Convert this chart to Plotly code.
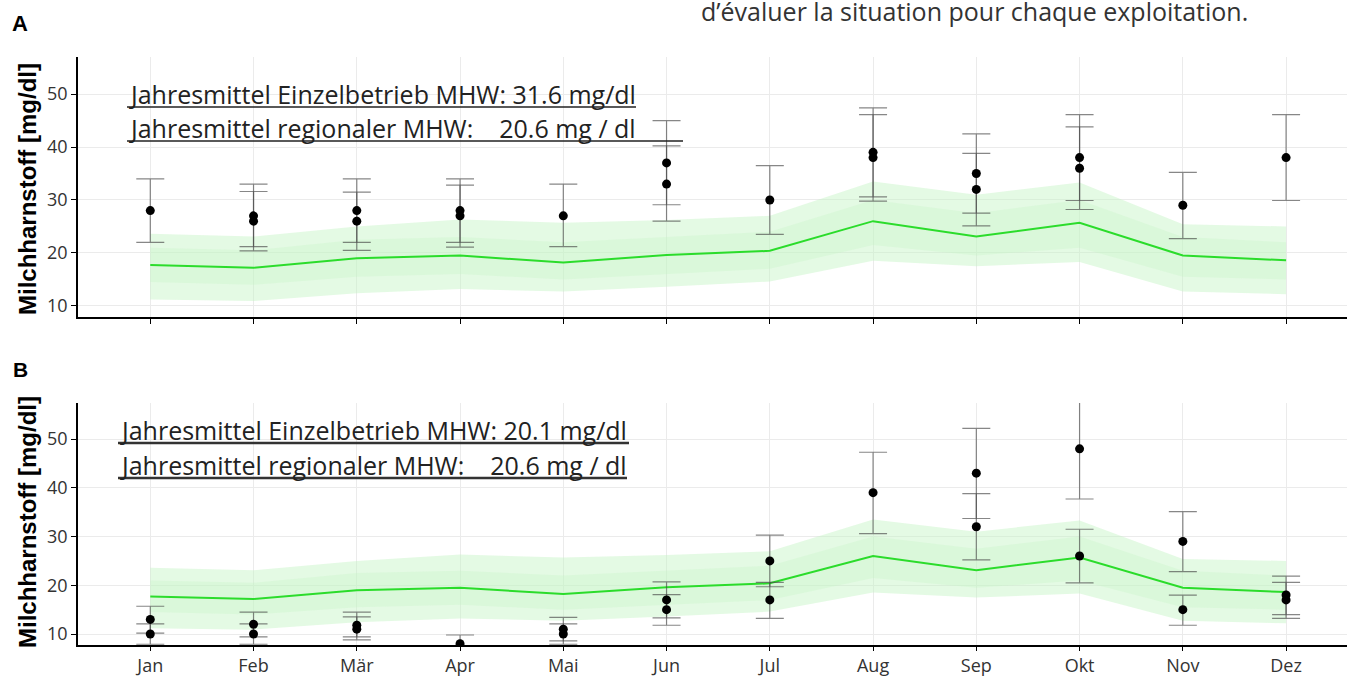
import plotly.graph_objects as go

W, H = 1347, 677

months = ["Jan", "Feb", "Mär", "Apr", "Mai", "Jun", "Jul", "Aug", "Sep", "Okt", "Nov", "Dez"]
month_pos = list(range(1, 13))

# regional mean (green line) and ribbons
regional_mean = [17.7, 17.2, 19.0, 19.5, 18.2, 19.6, 20.4, 26.0, 23.1, 25.7, 19.5, 18.6]
band_outer_low = [11.2, 10.9, 12.4, 13.2, 12.7, 13.6, 14.6, 18.5, 17.5, 18.3, 12.7, 12.2]
band_outer_high = [23.6, 23.1, 25.0, 26.3, 25.7, 26.2, 27.0, 33.5, 31.0, 33.3, 25.4, 25.0]
band_inner_low = [14.5, 14.0, 15.5, 16.0, 15.0, 16.0, 17.0, 21.5, 19.5, 21.0, 15.5, 15.0]
band_inner_high = [21.0, 20.5, 22.5, 23.0, 22.0, 23.0, 24.0, 30.0, 27.5, 30.0, 23.0, 22.0]

# Panel A: single farm
a_month = [1, 2, 2, 3, 3, 4, 4, 5, 6, 6, 7, 8, 8, 9, 9, 10, 10, 11, 12]
a_value = [28, 27, 26, 28, 26, 28, 27, 27, 37, 33, 30, 39, 38, 35, 32, 38, 36, 29, 38]
a_low = [22.0, 21.2, 20.4, 22.0, 20.5, 22.0, 21.1, 21.2, 29.1, 26.0, 23.5, 30.6, 29.8, 27.5, 25.1, 29.9, 28.2, 22.7, 29.9]
a_high = [34.0, 33.0, 31.6, 34.0, 31.5, 34.0, 32.8, 33.0, 45.0, 40.2, 36.5, 47.4, 46.1, 42.5, 38.8, 46.1, 43.8, 35.2, 46.1]

# Panel B: single farm
b_month = [1, 1, 2, 2, 3, 3, 4, 5, 5, 6, 6, 7, 7, 8, 9, 9, 10, 10, 11, 11, 12, 12]
b_value = [13, 10, 12, 10, 11.8, 11.0, 8, 11, 10, 17, 15, 25, 17, 39, 43, 32, 48, 26, 29, 15, 18, 17]
b_low = [10.2, 7.9, 9.4, 7.9, 9.4, 8.8, 6.3, 8.6, 7.9, 13.3, 11.8, 19.7, 13.2, 30.6, 33.7, 25.2, 37.7, 20.5, 22.8, 11.8, 14.0, 13.2]
b_high = [15.7, 12.1, 14.5, 12.1, 14.5, 13.5, 9.8, 13.4, 12.1, 20.7, 18.1, 30.3, 20.6, 47.3, 52.2, 38.8, 58.3, 31.5, 35.1, 18.0, 21.9, 20.6]

y_ticks = [10, 20, 30, 40, 50]

texts_a = ["Jahresmittel Einzelbetrieb MHW: 31.6 mg/dl", "Jahresmittel regionaler MHW:    20.6 mg / dl"]
texts_b = ["Jahresmittel Einzelbetrieb MHW: 20.1 mg/dl", "Jahresmittel regionaler MHW:    20.6 mg / dl"]
y_title = "Milchharnstoff [mg/dl]"
top_text = "d\u2019évaluer la situation pour chaque exploitation."


def px_x(p):
    return p / W


def px_y(p):
    return 1 - p / H


fig = go.Figure()

panels = [
    ("x", "y", a_month, a_value, a_low, a_high),
    ("x2", "y2", b_month, b_value, b_low, b_high),
]

for xa, ya, pm, pv, plo, phi in panels:
    fig.add_trace(go.Scatter(
        x=month_pos + month_pos[::-1], y=band_outer_high + band_outer_low[::-1],
        fill="toself", fillcolor="rgba(195,245,195,0.45)", line=dict(width=0),
        mode="lines", hoverinfo="skip", showlegend=False, xaxis=xa, yaxis=ya))
    fig.add_trace(go.Scatter(
        x=month_pos + month_pos[::-1], y=band_inner_high + band_inner_low[::-1],
        fill="toself", fillcolor="rgba(195,245,195,0.3)", line=dict(width=0),
        mode="lines", hoverinfo="skip", showlegend=False, xaxis=xa, yaxis=ya))
    fig.add_trace(go.Scatter(
        x=month_pos, y=regional_mean, mode="lines",
        line=dict(color="#2bdc2b", width=2), showlegend=False, xaxis=xa, yaxis=ya))
    fig.add_trace(go.Scatter(
        x=pm, y=pv, mode="markers",
        marker=dict(color="black", size=9),
        error_y=dict(type="data", symmetric=False,
                     array=[h - v for h, v in zip(phi, pv)],
                     arrayminus=[v - l for l, v in zip(plo, pv)],
                     color="rgba(70,70,70,0.65)", thickness=1.2, width=14),
        showlegend=False, xaxis=xa, yaxis=ya))

axis_common = dict(
    showgrid=True, gridcolor="#ebebeb", gridwidth=1, zeroline=False,
    showline=True, linecolor="black", linewidth=1.6, automargin=False,
    ticks="outside", tickcolor="black", tickwidth=1.2,
    tickfont=dict(family="Open Sans", size=18, color="#333333"),
)

xdom = [px_x(78), 1.0]
fig.update_layout(
    width=W, height=H, margin=dict(l=0, r=0, t=0, b=0, autoexpand=False),
    plot_bgcolor="white", paper_bgcolor="white",
    xaxis=dict(domain=xdom, range=[0.30, 12.59], tickvals=month_pos, ticktext=months,
               showticklabels=False, anchor="y", ticklen=5, **axis_common),
    yaxis=dict(domain=[px_y(317), px_y(57)], range=[7.9, 57.0], tickvals=y_ticks,
               anchor="x", ticklen=5, **axis_common),
    xaxis2=dict(domain=xdom, range=[0.30, 12.59], tickvals=month_pos, ticktext=months,
                showticklabels=True, anchor="y2", ticklen=4, **axis_common),
    yaxis2=dict(domain=[px_y(645), px_y(403)], range=[7.75, 57.4], tickvals=y_ticks,
                anchor="x2", ticklen=5, **axis_common),
)

ann = []
shapes = []
ann_font = dict(family="Open Sans", size=25, color="#222222")

# panel A texts
for txt, yc, ul_y, x0, x1 in [(texts_a[0], 94, 107, 127, 636), (texts_a[1], 128, 141, 127, 683)]:
    ann.append(dict(text=txt, x=px_x(x0), y=px_y(yc), xref="paper", yref="paper",
                    xanchor="left", yanchor="middle", showarrow=False, font=ann_font))
    shapes.append(dict(type="line", xref="paper", yref="paper", x0=px_x(x0), x1=px_x(x1),
                       y0=px_y(ul_y), y1=px_y(ul_y), line=dict(color="#222222", width=1.5)))
# panel B texts
for txt, yc, ul_y, x0, x1 in [(texts_b[0], 430, 443, 118, 629), (texts_b[1], 465, 478, 118, 627)]:
    ann.append(dict(text=txt, x=px_x(x0), y=px_y(yc), xref="paper", yref="paper",
                    xanchor="left", yanchor="middle", showarrow=False, font=ann_font))
    shapes.append(dict(type="line", xref="paper", yref="paper", x0=px_x(x0), x1=px_x(x1),
                       y0=px_y(ul_y), y1=px_y(ul_y), line=dict(color="#333333", width=2.5)))

# y titles
for yc in [189, 522]:
    ann.append(dict(text="<b>" + y_title + "</b>", x=px_x(27), y=px_y(yc), xref="paper", yref="paper",
                    xanchor="center", yanchor="middle", textangle=-90, showarrow=False,
                    font=dict(family="Liberation Sans", size=24, color="black")))

# panel letters
ann.append(dict(text="<b>A</b>", x=px_x(10), y=px_y(23), xref="paper", yref="paper",
                xanchor="left", yanchor="middle", showarrow=False,
                font=dict(family="Liberation Sans", size=22, color="black")))
ann.append(dict(text="<b>B</b>", x=px_x(11), y=px_y(369), xref="paper", yref="paper",
                xanchor="left", yanchor="middle", showarrow=False,
                font=dict(family="Liberation Sans", size=21, color="black")))

# text at top (partly cropped in the reference)
ann.append(dict(text=top_text, x=px_x(699), y=px_y(11), xref="paper", yref="paper",
                xanchor="left", yanchor="middle", showarrow=False,
                font=dict(family="Open Sans", size=25, color="#333333")))

fig.update_layout(annotations=ann, shapes=shapes)
fig.write_html("out.html", config={"displayModeBar": False},
               post_script="document.body.style.margin='0';document.body.style.overflow='hidden';")
